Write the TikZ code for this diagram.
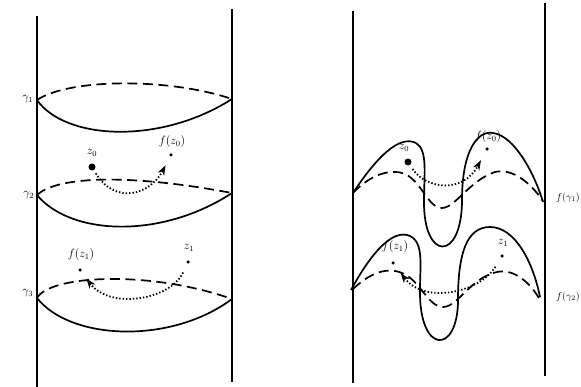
\documentclass[tikz,border=0pt]{standalone}
\usepackage{amsmath}
\usepackage{tikz}
\usetikzlibrary{arrows.meta}

\begin{document}
\begin{tikzpicture}[>={Stealth[length=10pt,width=7pt,inset=3pt]}, x=1pt, y=-1pt, line width=1.7pt]
    \tikzstyle{bigdot}=[circle, fill, inner sep=0pt, minimum size=7pt]
    \tikzstyle{smalldot}=[circle, fill, inner sep=0pt, minimum size=3.5pt]
    \tikzstyle{lbl}=[inner sep=0pt, font=\large]
    \tikzstyle{front}=[line width=1.7pt]
    \tikzstyle{back}=[line width=1.7pt, dash pattern=on 10pt off 5.5pt]
    \tikzstyle{flow}=[->, line width=1.8pt, dash pattern=on 1.4pt off 2pt]
    \useasboundingbox (0,0) rectangle (581,387);

    % the two cylinders
    \draw (37,16) -- (37,387);
    \draw (232,9) -- (232,382);
    \draw (353,11) -- (353,383);
    \draw (545,3) -- (545,376);

    % left: gamma_1, gamma_2, gamma_3
    \draw [back] (37,100) .. controls (70,78) and (170,78) .. (232,99);
    \draw [front] (37,100) .. controls (65,140) and (160,145) .. (232,99);
    \draw [back] (37,195) .. controls (55,178) and (120,172) .. (232,193);
    \draw [front] (37,195) .. controls (70,235) and (160,240) .. (232,193);
    \draw [back] (37,298) .. controls (50,275) and (150,270) .. (232,299);
    \draw [front] (37,298) .. controls (70,340) and (170,345) .. (232,299);

    \node [lbl, anchor=east] (g1) at (34,99) {$\gamma_1$};
    \node [lbl, anchor=east] (g2) at (35,195) {$\gamma_2$};
    \node [lbl, anchor=east] (g3) at (34,293) {$\gamma_3$};

    % right: f(gamma_1)
    \draw [front] (353,193) .. controls (378,155) and (400,135) .. (416,143)
        .. controls (428,150) and (424,175) .. (424,200)
        .. controls (423,262) and (462,262) .. (462,200)
        .. controls (462,150) and (478,130) .. (493,133)
        .. controls (515,136) and (535,175) .. (543,202);
    \draw [back] (353,193) .. controls (370,175) and (390,168) .. (405,174)
        .. controls (422,182) and (428,208) .. (442,208)
        .. controls (455,208) and (470,180) .. (495,172)
        .. controls (512,168) and (530,182) .. (543,201);

    % right: f(gamma_2)
    \draw [front] (351,290) .. controls (370,255) and (392,228) .. (410,236)
        .. controls (424,243) and (420,265) .. (420,290)
        .. controls (419,355) and (458,355) .. (458,300)
        .. controls (458,255) and (466,227) .. (490,227)
        .. controls (515,227) and (533,262) .. (540,297);
    \draw [back] (353,289) .. controls (368,275) and (385,266) .. (402,273)
        .. controls (420,280) and (428,307) .. (443,307)
        .. controls (458,307) and (470,278) .. (497,272)
        .. controls (515,268) and (532,285) .. (540,300);

    \node [lbl, anchor=east, font=\normalsize] (fg1) at (580.5,198) {$f(\gamma_1)$};
    \node [lbl, anchor=east, font=\normalsize] (fg2) at (580.5,297) {$f(\gamma_2)$};

    % points, left
    \node [bigdot] (z0) at (92,167) {};
    \node [lbl] (lz0) at (92,153) {$z_0$};
    \node [smalldot] (fz0) at (171,155) {};
    \node [lbl] (lfz0) at (172,142) {$f(z_0)$};
    \node [smalldot] (z1) at (188,262) {};
    \node [lbl] (lz1) at (189,248) {$z_1$};
    \node [smalldot] (fz1) at (80,270) {};
    \node [lbl] (lfz1) at (81,255) {$f(z_1)$};

    % points, right
    \node [bigdot] (rz0) at (408,162) {};
    \node [lbl] (lrz0) at (404,148) {$z_0$};
    \node [smalldot] (rfz0) at (487,149) {};
    \node [lbl] (lrfz0) at (488,137) {$f(z_0)$};
    \node [smalldot] (rz1) at (502,256) {};
    \node [lbl] (lrz1) at (503,243) {$z_1$};
    \node [smalldot] (rfz1) at (393,263) {};
    \node [lbl] (lrfz1) at (395,247) {$f(z_1)$};

    % f moves the points
    \draw [flow, shorten <=3pt, shorten >=9pt] (z0) .. controls (115,205) and (150,195) .. (fz0);
    \draw [flow, shorten <=9pt, shorten >=8pt] (z1) .. controls (170,300) and (110,310) .. (fz1);
    \draw [flow, shorten <=4pt, shorten >=10pt] (rz0) .. controls (425,188) and (462,195) .. (rfz0);
    \draw [flow, shorten <=10pt, shorten >=10pt] (rz1) .. controls (480,292) and (425,305) .. (rfz1);
\end{tikzpicture}
\end{document}
